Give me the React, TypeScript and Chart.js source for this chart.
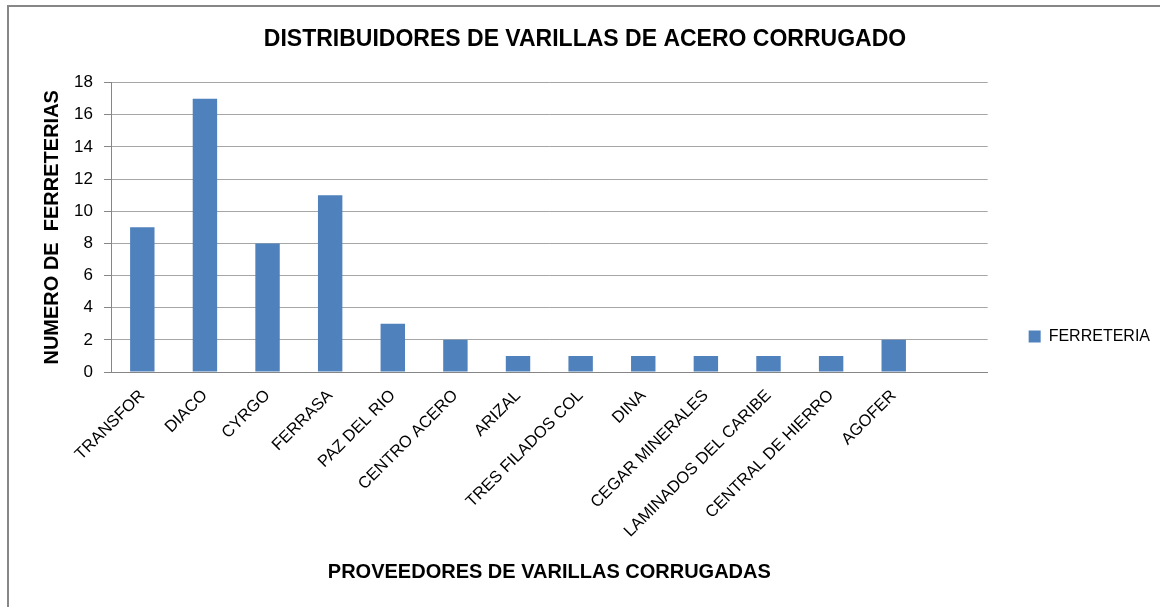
import React, { useEffect, useRef } from 'react';
import { Chart, registerables } from 'chart.js';

Chart.register(...registerables);

const categories = [
  'TRANSFOR',
  'DIACO',
  'CYRGO',
  'FERRASA',
  'PAZ DEL RIO',
  'CENTRO ACERO',
  'ARIZAL',
  'TRES FILADOS COL',
  'DINA',
  'CEGAR MINERALES',
  'LAMINADOS DEL CARIBE',
  'CENTRAL DE HIERRO',
  'AGOFER',
  '',
];
const ferreteriaValues = [9, 17, 8, 11, 3, 2, 1, 1, 1, 1, 1, 1, 2, null];
const seriesLabel = 'FERRETERIA';
const chartTitle = 'DISTRIBUIDORES DE VARILLAS DE ACERO CORRUGADO';
const xAxisTitle = 'PROVEEDORES DE VARILLAS CORRUGADAS';
const yAxisTitle = 'NUMERO DE  FERRETERIAS';
const yMin = 0;
const yMax = 18;
const yStep = 2;

const FONT = '"Liberation Sans", Arial, sans-serif';
const BAR_COLOR = '#4F81BD';

export default function App() {
  const canvasRef = useRef<HTMLCanvasElement | null>(null);

  useEffect(() => {
    if (!canvasRef.current) return;
    const chart = new Chart(canvasRef.current, {
      type: 'bar',
      data: {
        labels: categories,
        datasets: [
          {
            label: seriesLabel,
            data: ferreteriaValues,
            backgroundColor: BAR_COLOR,
            borderWidth: 0,
            categoryPercentage: 1,
            barPercentage: 0.39,
          },
        ],
      },
      options: {
        responsive: false,
        animation: false,
        devicePixelRatio: 1,
        layout: { padding: { left: 10, top: 0, right: 0, bottom: 0 } },
        plugins: {
          tooltip: { enabled: false },
          legend: {
            display: true,
            position: 'right',
            align: 'start',
            fullSize: false,
            title: {
              display: true,
              text: ' ',
              font: { family: FONT, size: 10, lineHeight: 1.2 },
              padding: { top: 193, bottom: 0 },
            },
            labels: {
              boxWidth: 12,
              boxHeight: 12,
              padding: 41,
              color: '#000',
              font: { family: FONT, size: 16 },
            },
          },
          title: {
            display: true,
            text: chartTitle,
            color: '#000',
            font: { family: FONT, size: 23, weight: 'bold', lineHeight: 1.2 },
            padding: { top: 26, bottom: 29 },
          },
        },
        scales: {
          x: {
            offset: true,
            grid: { display: true, drawOnChartArea: false, drawTicks: false },
            border: { display: true, color: '#868686', width: 1 },
            ticks: {
              autoSkip: false,
              minRotation: 45,
              maxRotation: 45,
              padding: 14,
              color: '#000',
              font: { family: FONT, size: 16.5 },
            },
            title: {
              display: true,
              text: xAxisTitle,
              color: '#000',
              font: { family: FONT, size: 20, weight: 'bold', lineHeight: 1.2 },
              padding: { top: 0, bottom: 23 },
            },
            afterFit: (scale: any) => {
              scale.height = 235;
            },
          },
          y: {
            min: yMin,
            max: yMax,
            grid: { color: '#a6a6a6', tickLength: 7, drawTicks: true, tickColor: '#868686' },
            border: { display: true, color: '#868686', width: 1 },
            ticks: {
              stepSize: yStep,
              padding: 11,
              color: '#000',
              font: { family: FONT, size: 17 },
            },
            title: {
              display: true,
              text: yAxisTitle,
              color: '#000',
              font: { family: FONT, size: 20, weight: 'bold', lineHeight: 1.2 },
              padding: { top: 30, bottom: 0 },
            },
            afterFit: (scale: any) => {
              scale.width = 101;
            },
          },
        },
      },
    });
    return () => chart.destroy();
  }, []);

  return (
    <div style={{ position: 'absolute', left: 0, top: 0, width: 1160, height: 607, background: '#fff', overflow: 'hidden' }}>
      <div
        style={{
          position: 'absolute',
          left: 7,
          top: 5,
          width: 1200,
          height: 700,
          borderLeft: '2px solid #878787',
          borderTop: '2px solid #878787',
        }}
      />
      <canvas ref={canvasRef} width={1160} height={607} style={{ position: 'absolute', left: 0, top: 0 }} />
    </div>
  );
}
